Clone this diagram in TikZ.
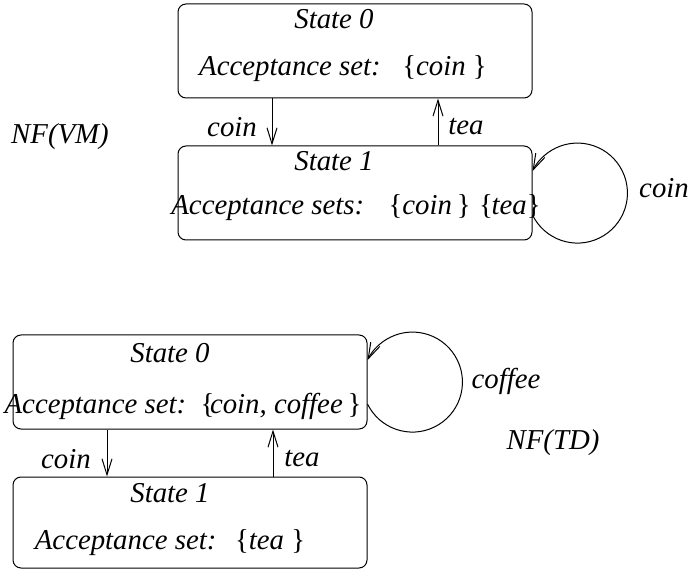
\documentclass[tikz,border=0pt]{standalone}
\usepackage{fontspec}
\setmainfont{Liberation Serif}
\usetikzlibrary{arrows.meta}

\tikzset{
  state/.style={shape=rectangle,draw,rounded corners=4pt,
                minimum width=177pt,minimum height=47pt,inner sep=0pt},
  txt/.style={inner sep=0pt,font=\fontsize{14.4}{17}\selectfont\itshape},
  >={Straight Barb[length=8pt,width=5pt]}
}

\begin{document}
\begin{tikzpicture}[x=0.5pt,y=0.5pt,line width=0.5pt]
      \useasboundingbox (0,0) rectangle (688,572);

      % NF(VM)
      \path node (vmzero) at (355,521) [state] {};
      \path node (vmone) at (355,379) [state] {};

      \path node (vmzerotitle) at (334,553) [txt] {State 0};
      \path node (vmzeroacc) at (343,503) [txt]
            {Acceptance set:\hspace{0.75em}\textup{\{}coin \textup{\}}};
      \path node (vmonetitle) at (334,411) [txt] {State 1};
      \path node (vmoneacc) at (356,364) [txt]
            {Acceptance sets:\hspace{0.85em}\textup{\{}coin\,\textup{\}}\hspace{0.3em}\textup{\{}\kern-0.05em tea\textup{\}}};

      \coordinate (vmcoin) at (272,0);
      \coordinate (vmtea) at (438,0);
      \draw[->] (vmzero.south -| vmcoin) -- (vmone.north -| vmcoin);
      \draw[->] (vmone.north -| vmtea) -- (vmzero.south -| vmtea);
      \path node (vmcoinlabel) at (232,445) [txt] {coin};
      \path node (vmtealabel) at (466,445) [txt] {tea};

      \draw[->] ([yshift=-11pt]vmone.east) arc[start angle=-154,end angle=154,radius=25pt];
      \path node (vmlooplabel) at (664,384) [txt] {coin};

      \path node (vmname) at (60,435) [txt] {NF(VM)};

      % NF(TD)
      \path node (tdzero) at (190,190) [state] {};
      \path node (tdone) at (190,49.5) [state,minimum height=45.5pt] {};

      \path node (tdzerotitle) at (170,219) [txt] {State 0};
      \path node (tdzeroacc) at (183,166) [txt]
            {Acceptance set:\hspace{0.5em}\textup{\{}\kern-0.15em coin, coffee\,\textup{\}}};
      \path node (tdonetitle) at (170,79) [txt] {State 1};
      \path node (tdoneacc) at (170,29) [txt]
            {Acceptance set:\hspace{0.65em}\textup{\{}tea \textup{\}}};

      \coordinate (tdcoin) at (107,0);
      \coordinate (tdtea) at (273,0);
      \draw[->] (tdzero.south -| tdcoin) -- (tdone.north -| tdcoin);
      \draw[->] (tdone.north -| tdtea) -- (tdzero.south -| tdtea);
      \path node (tdcoinlabel) at (66,113) [txt] {coin};
      \path node (tdtealabel) at (302,113) [txt] {tea};

      \draw[->] ([yshift=-11pt]tdzero.east) arc[start angle=-154,end angle=154,radius=25pt];
      \path node (tdlooplabel) at (506,191) [txt] {coffee};

      \path node (tdname) at (553,129) [txt] {NF(TD)};
    \end{tikzpicture}
\end{document}
